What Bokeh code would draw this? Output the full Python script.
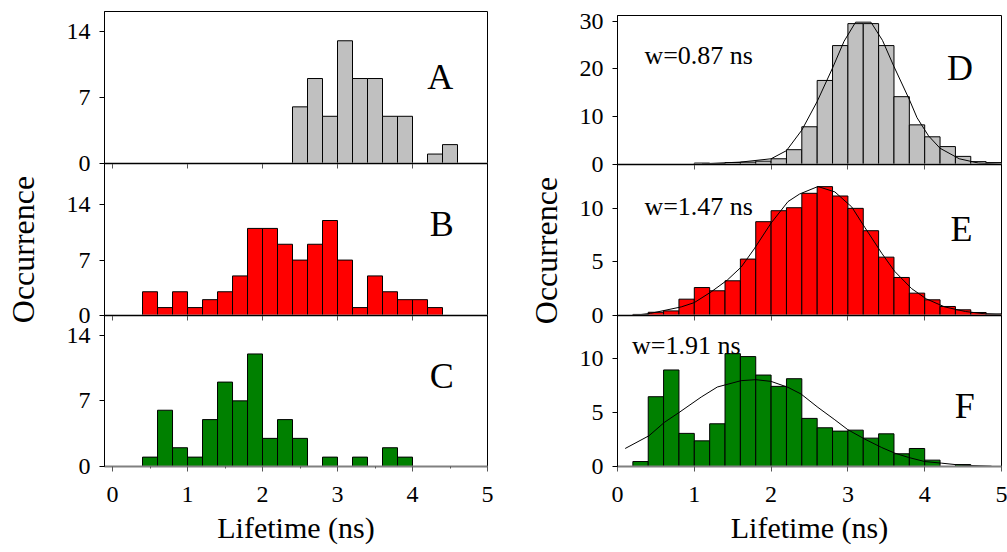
from math import pi
from bokeh.plotting import figure
from bokeh.layouts import row, column
from bokeh.models import Range1d, FixedTicker, Label
from bokeh.embed import file_html
from bokeh.resources import INLINE

FONT = "Liberation Serif"
BIN = 0.2

# ---------------- data ----------------
x_ticks = [0, 1, 2, 3, 4, 5]
x_minor_left = [0.5, 1.5, 2.5, 3.5, 4.5]

a_start = 2.4
a_counts = [6, 9, 5, 13, 9, 9, 5, 5, 0, 1, 2]
b_start = 0.4
b_counts = [3, 1, 3, 1, 2, 3, 5, 11, 11, 9, 7, 9, 12, 7, 1, 5, 3, 2, 2, 1]
c_start = 0.4
c_counts = [1, 6, 2, 1, 5, 9, 7, 12, 3, 5, 3, 0, 1, 0, 1, 0, 2, 1]
left_yticks = [0, 7, 14]

d_start = 1.0
d_counts = [0.3, 0.2, 0.4, 0.5, 0.7, 1.2, 3.1, 7.9, 17.6, 24.9, 29.5, 29.5,
            24.9, 14.2, 8.3, 5.8, 3.75, 1.7, 0.6, 0.4]
d_fit_x = [1.1, 1.6, 2.0, 2.2, 2.4, 2.6, 2.8, 2.95, 3.1, 3.3, 3.45, 3.6, 3.8,
           3.9, 4.05, 4.2, 4.45, 4.7, 5.0]
d_fit_y = [0.15, 0.5, 1.2, 2.9, 7.2, 13.2, 20.2, 25.8, 29.8, 29.8, 26.0, 20.5,
           13.6, 9.8, 6.0, 3.4, 1.2, 0.3, 0.05]
d_yticks = [0, 10, 20, 30]

e_start = 0.2
e_counts = [0.1, 0.3, 0.43, 1.52, 2.6, 2.3, 3.23, 5.25, 8.73, 9.75, 10.03, 11.37,
            11.99, 11.12, 9.97, 7.89, 5.43, 3.54, 2.08, 1.46, 0.84, 0.53, 0.28, 0.15]
e_fit_x = [0.2, 0.43, 0.83, 1.0, 1.22, 1.43, 1.61, 1.78, 2.0, 2.22, 2.37, 2.61,
           2.83, 3.05, 3.22, 3.44, 3.61, 3.83, 4.02, 4.26, 4.53, 4.79, 5.0]
e_fit_y = [0.0, 0.2, 0.8, 1.2, 2.2, 3.3, 4.5, 6.2, 8.6, 10.6, 11.3, 12.0, 11.5,
           10.1, 8.2, 5.8, 4.1, 2.5, 1.55, 0.8, 0.37, 0.15, 0.06]

f_start = 0.2
f_counts = [0.46, 6.47, 8.95, 3.07, 2.38, 3.96, 10.46, 10.19, 8.48, 7.43, 8.14,
            4.46, 3.59, 3.28, 3.37, 2.63, 3.03, 1.18, 1.67, 0.59, 0, 0.18]
f_fit_x = [0.1, 0.41, 0.61, 0.8, 1.09, 1.3, 1.61, 1.8, 2.0, 2.22, 2.39, 2.61,
           2.83, 3.0, 3.22, 3.44, 3.61, 3.79, 4.0, 4.22, 4.48, 4.87]
f_fit_y = [1.67, 2.85, 4.09, 5.0, 6.44, 7.37, 7.96, 8.05, 7.89, 7.34, 6.72, 5.48,
           4.33, 3.41, 2.54, 1.76, 1.24, 0.84, 0.46, 0.31, 0.12, 0.03]
rf_yticks = [0, 5, 10]

widths = ["w=0.87 ns", "w=1.47 ns", "w=1.91 ns"]
letters = ["A", "B", "C", "D", "E", "F"]
y_title = "Occurrence"
x_title = "Lifetime (ns)"

GRAY = "#C0C0C0"
RED = "#FF0000"
GREEN = "#008000"
OVER = 14


def panel(xr, ymax, yticks, frame_w, frame_h, bl, br, bt, bb, bottom, minor,
          first, standoff=15, lstandoff=6):
    kw = {}
    if not first:
        kw["margin"] = (-OVER, 0, 0, 0)
    p = figure(frame_width=frame_w, frame_height=frame_h,
               x_range=Range1d(*xr), y_range=Range1d(0, ymax),
               output_backend="svg", toolbar_location=None,
               min_border_left=bl, min_border_right=br,
               min_border_top=bt, min_border_bottom=bb, **kw)
    p.background_fill_alpha = 0
    p.border_fill_alpha = 0
    p.outline_line_color = "black"
    p.outline_line_width = 1
    p.xgrid.visible = False
    p.ygrid.visible = False
    ya = p.yaxis[0]
    ya.ticker = FixedTicker(ticks=yticks, minor_ticks=[])
    ya.major_tick_out = 5
    ya.major_tick_in = 0
    ya.minor_tick_out = 0
    ya.minor_tick_in = 0
    ya.axis_line_color = "black"
    ya.major_tick_line_color = "black"
    ya.major_label_text_font = FONT
    ya.major_label_text_font_size = "24px"
    ya.major_label_text_color = "black"
    ya.major_label_standoff = 9
    xa = p.xaxis[0]
    xa.major_tick_in = 0
    xa.minor_tick_in = 0
    xa.axis_line_color = "#808080"
    xa.axis_line_width = 2
    xa.major_tick_line_color = "#555555"
    xa.minor_tick_line_color = "#555555"
    if bottom:
        xa.ticker = FixedTicker(ticks=x_ticks, minor_ticks=minor)
        xa.major_tick_out = 5
        xa.minor_tick_out = 2
        xa.major_label_text_font = FONT
        xa.major_label_text_font_size = "24px"
        xa.major_label_text_color = "black"
        xa.major_label_standoff = standoff
        xa.axis_label = x_title
        xa.axis_label_text_font = FONT
        xa.axis_label_text_font_size = "30px"
        xa.axis_label_text_font_style = "normal"
        xa.axis_label_text_color = "black"
        xa.axis_label_standoff = lstandoff
    else:
        xa.ticker = FixedTicker(ticks=[], minor_ticks=x_ticks)
        xa.major_tick_out = 0
        xa.minor_tick_out = 5
        xa.major_label_standoff = 0
    return p


def bars(p, start, counts, color):
    lefts, rights, tops = [], [], []
    for i, c in enumerate(counts):
        if c > 0:
            lefts.append(start + i * BIN)
            rights.append(start + (i + 1) * BIN)
            tops.append(c)
    p.quad(left=lefts, right=rights, bottom=0, top=tops, fill_color=color,
           line_color="black", line_width=1)


def text(p, x, y, s, size, align="left"):
    p.add_layout(Label(x=x, y=y, text=s, text_font=FONT, text_font_size=size,
                       text_align=align, text_baseline="alphabetic",
                       text_color="black"))


def title_strip(w, h, cx, cy):
    s = figure(width=w, height=h, x_range=Range1d(0, w), y_range=Range1d(0, h),
               output_backend="svg", toolbar_location=None,
               x_axis_type=None, y_axis_type=None,
               min_border=0, min_border_left=0, min_border_right=0,
               min_border_top=0, min_border_bottom=0)
    s.outline_line_color = None
    s.background_fill_alpha = 0
    s.border_fill_alpha = 0
    s.xgrid.visible = False
    s.ygrid.visible = False
    s.add_layout(Label(x=cx, y=cy, text=y_title, angle=pi / 2,
                       text_font=FONT, text_font_size="32px",
                       text_align="center", text_baseline="middle",
                       text_color="black"))
    return s


LXR = (-0.107, 5.0)
RXR = (0.0, 5.0)
H = 552

pa = panel(LXR, 16.1, left_yticks, 383, 152, 60, 10, 11, OVER, False, x_minor_left, True)
pb = panel(LXR, 19.2, left_yticks, 383, 152, 60, 10, 0, OVER, False, x_minor_left, False)
pc = panel(LXR, 16.1, left_yticks, 383, 151, 60, 10, 0, 86, True, x_minor_left, False)

pd = panel(RXR, 31.2, d_yticks, 384, 149, 50, 6, 15, OVER, False, [], True)
pe = panel(RXR, 14.05, rf_yticks, 384, 151, 50, 6, 0, OVER, False, [], False)
pf = panel(RXR, 14.0, rf_yticks, 384, 151, 50, 6, 0, 86, True, [], False)

bars(pa, a_start, a_counts, GRAY)
bars(pb, b_start, b_counts, RED)
bars(pc, c_start, c_counts, GREEN)
bars(pd, d_start, d_counts, GRAY)
bars(pe, e_start, e_counts, RED)
bars(pf, f_start, f_counts, GREEN)

pd.line(d_fit_x, d_fit_y, line_color="black", line_width=1)
pe.line(e_fit_x, e_fit_y, line_color="black", line_width=1)
pf.line(f_fit_x, f_fit_y, line_color="black", line_width=1)

text(pa, 4.37, 9.15, letters[0], "36px", "center")
text(pb, 4.39, 11.56, letters[1], "36px", "center")
text(pc, 4.39, 9.6, letters[2], "36px", "center")
text(pd, 4.46, 20.3, letters[3], "36px", "center")
text(pe, 4.48, 8.08, letters[4], "36px", "center")
text(pf, 4.52, 5.57, letters[5], "36px", "center")

text(pd, 0.35, 22.8, widths[0], "26px")
text(pe, 0.35, 10.1, widths[1], "26px")
text(pf, 0.19, 11.2, widths[2], "26px")

left_title = title_strip(44, H, 22, H - 249)
right_title = title_strip(70, H, 48, H - 250)

layout = row(left_title, column(pa, pb, pc, spacing=0),
             right_title, column(pd, pe, pf, spacing=0), spacing=0)

open("out.html", "w").write(file_html(layout, INLINE))
